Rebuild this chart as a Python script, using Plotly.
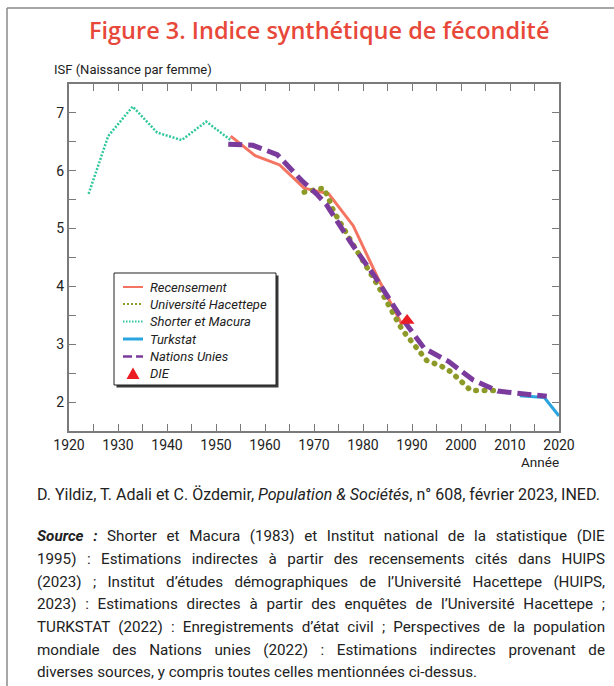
import json
import plotly.graph_objects as go

# ---------------- data ----------------
shorter_years = [1924, 1928, 1933, 1938, 1943, 1948, 1953]
shorter_isf = [5.60, 6.60, 7.11, 6.66, 6.53, 6.85, 6.53]

recens_years = [1953, 1958, 1963, 1968, 1973, 1978, 1983, 1988]
recens_isf = [6.60, 6.26, 6.10, 5.70, 5.60, 5.05, 4.15, 3.33]

hacet_years = [1968, 1970, 1972, 1973, 1974, 1978, 1983, 1988, 1991, 1993, 1996, 1998, 2000, 2002, 2004, 2007]
hacet_isf = [5.63, 5.67, 5.70, 5.52, 5.30, 4.72, 4.02, 3.25, 2.93, 2.72, 2.62, 2.52, 2.36, 2.20, 2.20, 2.20]

turkstat_years = [2012, 2017, 2020]
turkstat_isf = [2.11, 2.08, 1.76]

un_years = [1952.5, 1957.5, 1962.5, 1967.5, 1970.5, 1972.5, 1977.5, 1982.5, 1987.5, 1992.5, 1997.5, 2002.5, 2007.5, 2012.5, 2017.5]
un_isf = [6.46, 6.44, 6.28, 5.83, 5.60, 5.42, 4.76, 4.16, 3.50, 2.93, 2.70, 2.38, 2.19, 2.15, 2.10]

die_years = [1989]
die_isf = [3.41]

x_ticks = list(range(1920, 2021, 5))
x_labels = [str(v) if v % 10 == 0 else "" for v in x_ticks]
y_ticks = [1.5, 2, 2.5, 3, 3.5, 4, 4.5, 5, 5.5, 6, 6.5, 7, 7.5]
y_labels = [str(int(v)) if v == int(v) and 2 <= v <= 7 else "" for v in y_ticks]

series_names = ["Recensement", "Université Hacettepe", "Shorter et Macura", "Turkstat", "Nations Unies", "DIE"]

title_text = "Figure 3. Indice synthétique de fécondité"
yaxis_title = "ISF (Naissance par femme)"
xaxis_title = "Année"
citation = "D. Yildiz, T. Adali et C. Özdemir, <i>Population & Sociétés</i>, n° 608, février 2023, INED."
source_lines = [
    "<b><i>Source :</i></b> Shorter et Macura (1983) et Institut national de la statistique (DIE",
    "1995) : Estimations indirectes à partir des recensements cités dans HUIPS",
    "(2023) ; Institut d’études démographiques de l’Université Hacettepe (HUIPS,",
    "2023) : Estimations directes à partir des enquêtes de l’Université Hacettepe ;",
    "TURKSTAT (2022) : Enregistrements d’état civil ; Perspectives de la population",
    "mondiale des Nations unies (2022) : Estimations indirectes provenant de",
    "diverses sources, y compris toutes celles mentionnées ci-dessus.",
]

# ---------------- layout geometry ----------------
W, H = 614, 686
L, R, T, B = 69, 559, 84, 431  # plot area in pixels
FONT = "Roboto, sans-serif"
FRAME = "#7a7a7a"

C_REC = "#f47461"
C_HAC = "#8e9a28"
C_SHO = "#2fc79b"
C_TUR = "#2aa5df"
C_UN = "#7b3b9c"
C_DIE = "#ec1c24"


def px(x):
    return (x - L) / (R - L)


def py(y):
    return (B - y) / (B - T)


fig = go.Figure()

fig.add_trace(go.Scatter(x=recens_years, y=recens_isf, mode="lines", name=series_names[0],
                         line=dict(color=C_REC, width=3)))
fig.add_trace(go.Scatter(x=hacet_years, y=hacet_isf, mode="lines", name=series_names[1],
                         line=dict(color=C_HAC, width=5.5, dash="0.5px,8px")))
fig.add_trace(go.Scatter(x=shorter_years, y=shorter_isf, mode="lines", name=series_names[2],
                         line=dict(color=C_SHO, width=2.5, dash="2px,1.6px")))
fig.add_trace(go.Scatter(x=turkstat_years, y=turkstat_isf, mode="lines", name=series_names[3],
                         line=dict(color=C_TUR, width=3)))
fig.add_trace(go.Scatter(x=un_years, y=un_isf, mode="lines", name=series_names[4],
                         line=dict(color=C_UN, width=5, dash="14px,6px")))
fig.add_trace(go.Scatter(x=die_years, y=die_isf, mode="markers", name=series_names[5],
                         marker=dict(color=C_DIE, symbol="triangle-up", size=13)))

axis_common = dict(showgrid=False, zeroline=False, showline=True, linecolor=FRAME, linewidth=2,
                   mirror="ticks", ticks="inside", ticklen=7, tickwidth=1.3, tickcolor=FRAME,
                   tickfont=dict(family=FONT, size=14, color="#222"))

fig.update_xaxes(range=[1920, 2020], tickmode="array", tickvals=x_ticks, ticktext=x_labels, **axis_common)
fig.update_yaxes(range=[1.5, 7.5], tickmode="array", tickvals=y_ticks, ticktext=y_labels, **axis_common)

annotations = [
    dict(x=px(319), y=py(30), xref="paper", yref="paper", text=title_text, showarrow=False,
         xanchor="center", yanchor="middle",
         font=dict(family="Open Sans, sans-serif", size=23.5, color="#e8483a", weight=600)),
    dict(x=px(52), y=py(70), xref="paper", yref="paper", text=yaxis_title, showarrow=False,
         xanchor="left", yanchor="middle", font=dict(family=FONT, size=13, color="#222")),
    dict(x=px(561), y=py(462), xref="paper", yref="paper", text=xaxis_title, showarrow=False,
         xanchor="right", yanchor="middle", font=dict(family=FONT, size=13.5, color="#222")),
    dict(x=px(35), y=py(494), xref="paper", yref="paper", text=citation, showarrow=False,
         xanchor="left", yanchor="middle", align="left", font=dict(family=FONT, size=16, color="#222")),
]
line_y = [536, 559, 581.5, 604, 627, 649.5, 672]
for t, yy in zip(source_lines, line_y):
    annotations.append(dict(x=px(35), y=py(yy), xref="paper", yref="paper", text=t, showarrow=False,
                            xanchor="left", yanchor="middle", align="left",
                            font=dict(family=FONT, size=15.2, color="#222")))

shapes = [
    # outer frame (top and left)
    dict(type="line", xref="paper", yref="paper", x0=px(7), x1=px(W + 2), y0=py(8), y1=py(8),
         line=dict(color="#8a8a8a", width=1.5)),
    dict(type="line", xref="paper", yref="paper", x0=px(7), x1=px(7), y0=py(8), y1=py(H + 2),
         line=dict(color="#8a8a8a", width=1.5)),
    # legend shadow and box
    dict(type="rect", xref="paper", yref="paper", x0=px(116.5), x1=px(278.5), y0=py(275.5), y1=py(387.5),
         fillcolor="#3a3a3a", line=dict(width=0), layer="above"),
    dict(type="rect", xref="paper", yref="paper", x0=px(114), x1=px(276), y0=py(273), y1=py(385),
         fillcolor="white", line=dict(color="#222", width=1), layer="above"),
]

# manual legend entries (symbols + labels)
rows = [287, 304, 321.5, 339, 356.5, 373.5]
leg_styles = [
    dict(color=C_REC, width=2, dash="solid"),
    dict(color=C_HAC, width=2.2, dash="2px,2px"),
    dict(color=C_SHO, width=2, dash="1.5px,1.5px"),
    dict(color=C_TUR, width=3, dash="solid"),
    dict(color=C_UN, width=2.5, dash="9px,4px"),
]
for yy, st in zip(rows[:5], leg_styles):
    shapes.append(dict(type="line", xref="paper", yref="paper", x0=px(123), x1=px(143), y0=py(yy), y1=py(yy),
                       line=st, layer="above"))
tx, ty = 133, rows[5]
shapes.append(dict(type="path", xref="paper", yref="paper", layer="above",
                   path=f"M {px(tx - 6.5)} {py(ty + 5.5)} L {px(tx + 6.5)} {py(ty + 5.5)} L {px(tx)} {py(ty - 6)} Z",
                   fillcolor=C_DIE, line=dict(width=0)))
for yy, name in zip(rows, series_names):
    annotations.append(dict(x=px(148), y=py(yy), xref="paper", yref="paper", text=name, showarrow=False,
                            xanchor="left", yanchor="middle",
                            font=dict(family=FONT, size=13, color="#222", style="italic")))

fig.update_layout(
    width=W, height=H,
    margin=dict(l=L, r=W - R, t=T, b=H - B),
    paper_bgcolor="white", plot_bgcolor="white",
    showlegend=False,
    annotations=annotations,
    shapes=shapes,
)

# lines of the source paragraph that are justified (all but the last one)
justify_lines = json.dumps(source_lines[:-1])
JUSTIFY_WIDTH = 603 - 35

post = """
document.body.style.margin='0px';
var _just = %s;
var _jw = %d;
function _fix(){
  var gd=document.getElementById('{plot_id}');
  if(!gd) return;
  var tr=gd.querySelectorAll('.scatterlayer .trace');
  if(tr.length>1){
    tr[1].querySelectorAll('path.js-line').forEach(function(p){p.style.strokeLinecap='round';});
  }
  gd.querySelectorAll('text.annotation-text').forEach(function(t){
    var u=t.getAttribute('data-unformatted');
    if(_just.indexOf(u)<0) return;
    t.setAttribute('word-spacing','0');
    var w=t.getBBox().width;
    var n=(t.textContent.match(/ /g)||[]).length;
    if(n>0){ t.setAttribute('word-spacing', ((_jw-w)/n).toFixed(2)); }
  });
}
_fix();
setTimeout(_fix, 0);
setTimeout(_fix, 300);
""" % (justify_lines, JUSTIFY_WIDTH)

fig.write_html("out.html", post_script=post, config={"displayModeBar": False})
